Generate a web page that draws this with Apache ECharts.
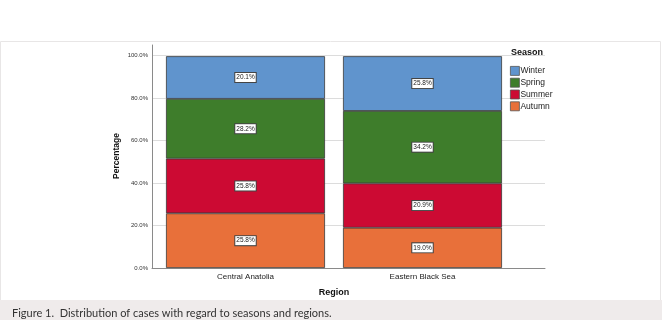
<!DOCTYPE html>
<html>
<head>
<meta charset="utf-8">
<script src="https://cdn.jsdelivr.net/npm/echarts@6/dist/echarts.min.js"></script>
<style>
  html, body { margin: 0; padding: 0; background: #fff; }
  #chart { width: 662px; height: 330px; }
</style>
</head>
<body>
<div id="chart"></div>
<script>
// categories and series values (percent of cases)
const regions = ['Central Anatolia', 'Eastern Black Sea']
const seasons = ['Winter', 'Spring', 'Summer', 'Autumn']
const autumn = [25.8, 19.0]
const summer = [25.8, 20.9]
const spring = [28.2, 34.2]
const winter = [20.1, 25.8]
const yTicks = [0, 20, 40, 60, 80, 100]

const colors = {
  Winter: '#6094cd',
  Spring: '#3e7d2b',
  Summer: '#cc0a33',
  Autumn: '#e8703a'
}

const chart = echarts.init(document.getElementById('chart'))

function barSeries(name, values) {
  return {
    name: name,
    type: 'bar',
    stack: 'total',
    xAxisIndex: 1,
    yAxisIndex: 1,
    barWidth: 159,
    data: values,
    itemStyle: {
      color: colors[name],
      borderColor: '#3a3a3a',
      borderWidth: 0.8
    },
    label: {
      show: true,
      position: 'inside',
      formatter: p => p.value.toFixed(1) + '%',
      fontFamily: 'Liberation Sans',
      fontSize: 6.5,
      color: '#222',
      backgroundColor: '#fff',
      borderColor: '#444',
      borderWidth: 1,
      padding: [1, 1, 1, 1]
    }
  }
}

chart.setOption({
  animation: false,
  backgroundColor: '#fff',
  title: [
    {
      text: 'Figure 1.  Distribution of cases with regard to seasons and regions.',
      left: 7,
      top: 303,
      textStyle: {
        fontFamily: 'Lato',
        fontWeight: 'normal',
        fontSize: 11,
        color: '#333'
      }
    },
    {
      text: 'Season',
      left: 511,
      top: 48,
      padding: 0,
      textStyle: {
        fontFamily: 'Liberation Sans',
        fontWeight: 'bold',
        fontSize: 9,
        color: '#111'
      }
    }
  ],
  graphic: [
    {
      type: 'rect',
      z: -10,
      shape: { x: 0.5, y: 41.5, width: 660, height: 259 },
      style: { fill: '#fff', stroke: '#e8e6e6', lineWidth: 1 }
    },
    {
      type: 'rect',
      z: -10,
      shape: { x: 0, y: 300, width: 662, height: 20 },
      style: { fill: '#efebeb' }
    },
    {
      // y axis title
      type: 'text',
      x: 117,
      y: 156,
      rotation: Math.PI / 2,
      style: {
        text: 'Percentage',
        fontFamily: 'Liberation Sans',
        fontWeight: 'bold',
        fontSize: 8.5,
        fill: '#111',
        align: 'center',
        verticalAlign: 'middle'
      }
    }
  ],
  legend: {
    data: seasons,
    orient: 'vertical',
    left: 505,
    top: 61,
    itemWidth: 9,
    itemHeight: 9,
    itemGap: 2,
    icon: 'rect',
    itemStyle: { borderColor: '#555', borderWidth: 0.8 },
    textStyle: {
      fontFamily: 'Liberation Sans',
      fontSize: 8.5,
      color: '#222',
      padding: [0, 0, 0, -4]
    }
  },
  grid: [
    { left: 152, right: 117, top: 45, bottom: 62 },
    { left: 157, right: 151, top: 56, bottom: 62 }
  ],
  xAxis: [
    {
      gridIndex: 0,
      type: 'value',
      min: 0,
      max: 1,
      axisLine: { show: true, lineStyle: { color: '#8a8a8a', width: 1 } },
      axisTick: { show: false },
      axisLabel: { show: false },
      splitLine: { show: false }
    },
    {
      gridIndex: 1,
      type: 'category',
      data: regions,
      axisLine: { show: false },
      axisTick: { show: false },
      axisLabel: {
        fontFamily: 'Liberation Sans',
        fontSize: 8,
        color: '#222',
        margin: 5
      },
      name: 'Region',
      nameLocation: 'middle',
      nameGap: 20,
      nameTextStyle: {
        fontFamily: 'Liberation Sans',
        fontWeight: 'bold',
        fontSize: 9,
        color: '#111'
      }
    }
  ],
  yAxis: [
    {
      // top of axis line runs a little above 100%
      gridIndex: 0,
      type: 'value',
      min: 0,
      max: 105,
      interval: 20,
      axisLine: { show: true, lineStyle: { color: '#8a8a8a', width: 1 } },
      axisTick: { show: false },
      axisLabel: {
        fontFamily: 'Liberation Sans',
        fontSize: 6,
        color: '#333',
        margin: 4,
        formatter: v => (yTicks.includes(v) ? v.toFixed(1) + '%' : '')
      },
      splitLine: {
        show: true,
        lineStyle: {
          color: ['#dcdcdc', '#dcdcdc', '#dcdcdc', '#dcdcdc', '#dcdcdc', '#dcdcdc', 'rgba(0,0,0,0)'],
          width: 1
        }
      }
    },
    {
      gridIndex: 1,
      type: 'value',
      min: 0,
      max: 100,
      show: false
    }
  ],
  series: [
    barSeries('Autumn', autumn),
    barSeries('Summer', summer),
    barSeries('Spring', spring),
    barSeries('Winter', winter)
  ]
})
</script>
</body>
</html>
